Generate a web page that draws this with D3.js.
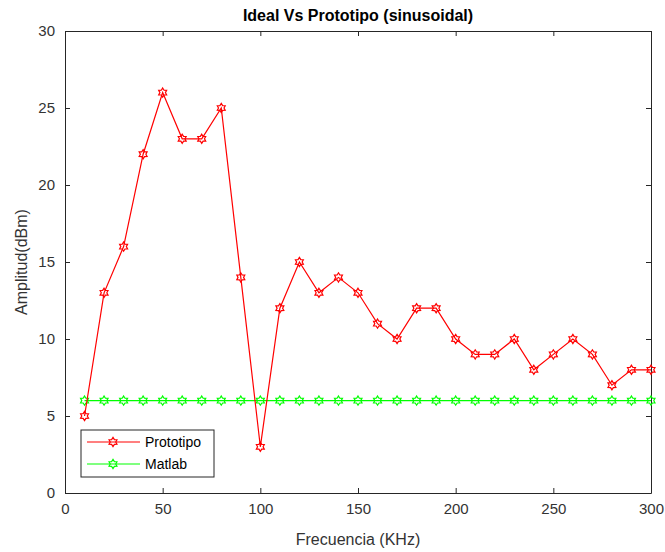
<!DOCTYPE html>
<html>
<head>
<meta charset="utf-8">
<script src="https://cdn.jsdelivr.net/npm/d3@7"></script>
<style>
  body { margin: 0; background: #fff; }
  text { font-family: "Liberation Sans", Arial, sans-serif; }
</style>
</head>
<body>
<div id="chart"></div>
<script>
const WIDTH = 665;
const HEIGHT = 552;
const margin = { top: 31, right: 14, bottom: 59, left: 65 };

// data
const freq = [10, 20, 30, 40, 50, 60, 70, 80, 90, 100, 110, 120, 130, 140, 150,
  160, 170, 180, 190, 200, 210, 220, 230, 240, 250, 260, 270, 280, 290, 300];
const prototipo = [5, 13, 16, 22, 26, 23, 23, 25, 14, 3, 12, 15, 13, 14, 13,
  11, 10, 12, 12, 10, 9, 9, 10, 8, 9, 10, 9, 7, 8, 8];
const matlab = [6, 6, 6, 6, 6, 6, 6, 6, 6, 6, 6, 6, 6, 6, 6,
  6, 6, 6, 6, 6, 6, 6, 6, 6, 6, 6, 6, 6, 6, 6];
const xTicks = [0, 50, 100, 150, 200, 250, 300];
const yTicks = [0, 5, 10, 15, 20, 25, 30];
const seriesNames = ["Prototipo", "Matlab"];
const seriesColors = ["#ff0000", "#00ff00"];

const w = WIDTH - margin.left - margin.right;
const h = HEIGHT - margin.top - margin.bottom;

const svg = d3.select("#chart").append("svg")
  .attr("width", WIDTH)
  .attr("height", HEIGHT);

const g = svg.append("g")
  .attr("transform", "translate(" + margin.left + "," + margin.top + ")");

const x = d3.scaleLinear().domain([0, 300]).range([0, w]);
const y = d3.scaleLinear().domain([0, 30]).range([h, 0]);

// axes, ticks pointing inward like matlab
const axisColor = "#262626";
const labelColor = "#333";
const xAxis = g.append("g")
  .attr("transform", "translate(0," + h + ")")
  .call(d3.axisBottom(x).tickValues(xTicks).tickSizeInner(-5).tickSizeOuter(0).tickPadding(10));
const yAxis = g.append("g")
  .call(d3.axisLeft(y).tickValues(yTicks).tickSizeInner(-5).tickSizeOuter(0).tickPadding(10));
const xTop = g.append("g")
  .call(d3.axisTop(x).tickValues(xTicks).tickSizeInner(-5).tickSizeOuter(0).tickFormat(""));
const yRight = g.append("g")
  .attr("transform", "translate(" + w + ",0)")
  .call(d3.axisRight(y).tickValues(yTicks).tickSizeInner(-5).tickSizeOuter(0).tickFormat(""));

[xAxis, yAxis, xTop, yRight].forEach(a => {
  a.selectAll("path").attr("stroke", axisColor).attr("stroke-width", 1);
  a.selectAll("line").attr("stroke", axisColor);
  a.selectAll("text").attr("fill", labelColor).style("font-size", "15px")
    .style("font-family", "Liberation Sans, Arial, sans-serif");
});

// hexagram marker
function hexagram(r) {
  const pts = [];
  for (let i = 0; i < 12; i++) {
    const a = Math.PI / 6 * i - Math.PI / 2;
    const rr = i % 2 === 0 ? r : r * 0.6;
    pts.push([rr * Math.cos(a), rr * Math.sin(a)]);
  }
  return "M" + pts.map(p => p[0].toFixed(2) + "," + p[1].toFixed(2)).join("L") + "Z";
}

const line = d3.line().x(d => x(d[0])).y(d => y(d[1]));

// green first, red on top
[matlab, prototipo].forEach((vals, k) => {
  const idx = k === 0 ? 1 : 0;
  const pts = freq.map((f, i) => [f, vals[i]]);
  g.append("path")
    .datum(pts)
    .attr("fill", "none")
    .attr("stroke", seriesColors[idx])
    .attr("stroke-width", 1.2)
    .attr("d", line);
  g.selectAll(".m" + idx)
    .data(pts)
    .enter().append("path")
    .attr("class", "m" + idx)
    .attr("transform", d => "translate(" + x(d[0]) + "," + y(d[1]) + ")")
    .attr("d", hexagram(4.6))
    .attr("fill", "none")
    .attr("stroke", seriesColors[idx])
    .attr("stroke-width", 1.2);
});

// title and labels
svg.append("text")
  .attr("x", margin.left + w / 2)
  .attr("y", 21)
  .attr("text-anchor", "middle")
  .style("font-size", "16px")
  .style("font-weight", "bold")
  .attr("fill", "#000")
  .text("Ideal Vs Prototipo (sinusoidal)");

svg.append("text")
  .attr("x", margin.left + w / 2)
  .attr("y", 545)
  .attr("text-anchor", "middle")
  .style("font-size", "16px")
  .attr("fill", labelColor)
  .text("Frecuencia (KHz)");

svg.append("text")
  .attr("transform", "translate(27," + (margin.top + h / 2) + ") rotate(-90)")
  .attr("text-anchor", "middle")
  .style("font-size", "16px")
  .attr("fill", labelColor)
  .text("Amplitud(dBm)");

// legend
const leg = svg.append("g").attr("transform", "translate(81,430)");
leg.append("rect")
  .attr("width", 133).attr("height", 47)
  .attr("fill", "#fff").attr("stroke", axisColor).attr("stroke-width", 1);
seriesNames.forEach((name, i) => {
  const ly = 12 + i * 22;
  leg.append("line")
    .attr("x1", 6).attr("x2", 59).attr("y1", ly).attr("y2", ly)
    .attr("stroke", seriesColors[i]).attr("stroke-width", 1.2);
  leg.append("path")
    .attr("transform", "translate(32," + ly + ")")
    .attr("d", hexagram(4.6))
    .attr("fill", "none")
    .attr("stroke", seriesColors[i])
    .attr("stroke-width", 1.2);
  leg.append("text")
    .attr("x", 64).attr("y", ly + 5)
    .style("font-size", "14px")
    .attr("fill", "#000")
    .text(name);
});
</script>
</body>
</html>
